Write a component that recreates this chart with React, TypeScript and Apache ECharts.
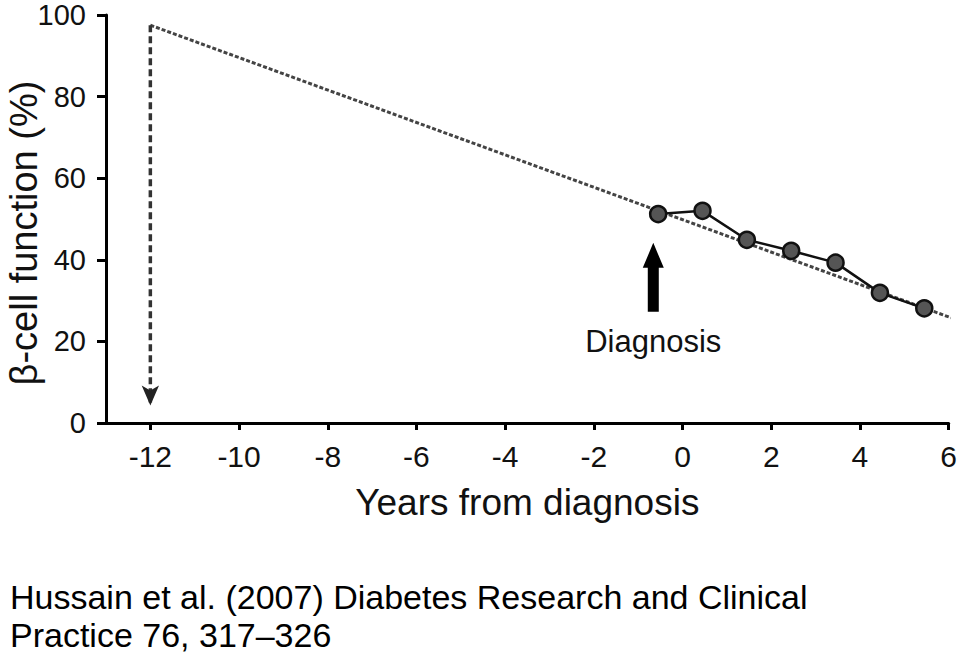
import React, { useEffect, useRef } from "react";
import * as echarts from "echarts";

// Observed data (years from diagnosis vs beta-cell function %)
const years = [-0.55, 0.45, 1.45, 2.45, 3.45, 4.45, 5.45];
const betaCell = [51.2, 52.0, 44.9, 42.2, 39.3, 31.9, 28.1];

// Extrapolated trend line
const trendX = [-12, 6.05];
const trendY = [97.5, 25.8];

// Onset arrow (vertical dashed line at -12 years)
const onsetX = [-12, -12];
const onsetY = [97.5, 5];
const onsetHead = [-12, 4.3];

// Diagnosis arrow position
const diagArrow = [-0.66, 35.7];

const xTickValues = [-12, -10, -8, -6, -4, -2, 0, 2, 4, 6];
const yTickValues = [0, 20, 40, 60, 80, 100];

const FONT = "'Liberation Sans', Arial, Helvetica, sans-serif";

export default function App() {
  const ref = useRef<HTMLDivElement>(null);
  useEffect(() => {
    if (!ref.current) return;
    const chart = echarts.init(ref.current, null, { renderer: "svg" });
    chart.setOption({
      animation: false,
      backgroundColor: "#ffffff",
      grid: { left: 106, right: 8, top: 15, bottom: 233, containLabel: false },
      xAxis: {
        type: "value",
        min: -13,
        max: 6,
        name: "Years from diagnosis",
        nameLocation: "middle",
        nameGap: 61,
        nameTextStyle: { fontFamily: FONT, fontSize: 37, color: "#111" },
        axisLine: { onZero: false, lineStyle: { color: "#000", width: 3 } },
        axisTick: {
          show: true,
          length: 7,
          lineStyle: { color: "#000", width: 3 },
          customValues: xTickValues,
        },
        axisLabel: {
          fontFamily: FONT,
          fontSize: 30,
          color: "#111",
          margin: 18,
          customValues: xTickValues,
        },
        splitLine: { show: false },
      },
      yAxis: {
        type: "value",
        min: 0,
        max: 100,
        interval: 20,
        axisLine: { show: true, onZero: false, lineStyle: { color: "#000", width: 3 } },
        axisTick: { show: true, length: 9, lineStyle: { color: "#000", width: 3 } },
        axisLabel: {
          fontFamily: FONT,
          fontSize: 29,
          color: "#111",
          margin: 20,
          customValues: yTickValues,
        },
        splitLine: { show: false },
      },
      graphic: [
        {
          type: "text",
          x: 24,
          y: 233,
          rotation: Math.PI / 2,
          style: {
            text: "β-cell function (%)",
            fontFamily: FONT,
            fontSize: 38,
            fill: "#111",
            align: "center",
            verticalAlign: "middle",
          },
        },
        {
          type: "text",
          x: 10,
          y: 597,
          style: {
            text: "Hussain et al. (2007) Diabetes Research and Clinical",
            fontFamily: FONT,
            fontSize: 34,
            fill: "#000",
            align: "left",
            verticalAlign: "middle",
          },
        },
        {
          type: "text",
          x: 10,
          y: 635,
          style: {
            text: "Practice 76, 317–326",
            fontFamily: FONT,
            fontSize: 34,
            fill: "#000",
            align: "left",
            verticalAlign: "middle",
          },
        },
      ],
      series: [
        {
          type: "line",
          name: "trend",
          data: trendX.map((x, i) => [x, trendY[i]]),
          symbol: "none",
          clip: false,
          lineStyle: { color: "#444", width: 3, type: [4, 2] },
          z: 2,
        },
        {
          type: "line",
          name: "onset",
          data: onsetX.map((x, i) => [x, onsetY[i]]),
          symbol: "none",
          clip: false,
          lineStyle: { color: "#333", width: 3.5, type: [7, 4] },
          z: 2,
        },
        {
          type: "scatter",
          name: "onsetHead",
          data: [onsetHead],
          symbol: "arrow",
          symbolRotate: 180,
          symbolSize: [13, 20],
          itemStyle: { color: "#222", opacity: 1 },
          z: 3,
        },
        {
          type: "scatter",
          name: "diagnosis",
          data: [diagArrow],
          symbol: "path://M10.5,0 L21,25 L16,25 L16,69 L5,69 L5,25 L0,25 Z",
          symbolSize: [21, 69],
          symbolKeepAspect: false,
          itemStyle: { color: "#000", opacity: 1 },
          label: {
            show: true,
            position: "bottom",
            distance: 14,
            formatter: "Diagnosis",
            fontFamily: FONT,
            fontSize: 31,
            color: "#111",
            opacity: 1,
          },
          z: 3,
        },
        {
          type: "line",
          name: "observed",
          data: years.map((x, i) => [x, betaCell[i]]),
          symbol: "circle",
          symbolSize: 16,
          lineStyle: { color: "#111", width: 2.5 },
          itemStyle: { color: "#555", borderColor: "#111", borderWidth: 2.5 },
          z: 4,
        },
      ],
    });
    return () => chart.dispose();
  }, []);
  return (
    <div
      ref={ref}
      style={{ position: "fixed", left: 0, top: 0, width: 960, height: 656, background: "#fff" }}
    />
  );
}
